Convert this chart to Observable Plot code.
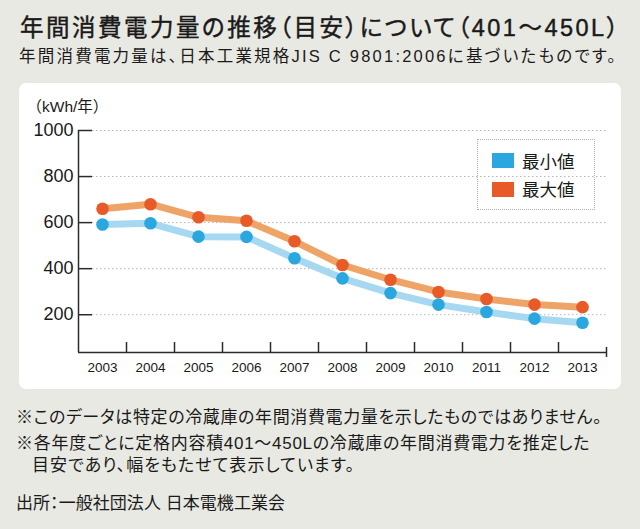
<!DOCTYPE html>
<html>
<head>
<meta charset="utf-8">
<script src="https://cdn.jsdelivr.net/npm/d3@7"></script>
<script src="https://cdn.jsdelivr.net/npm/@observablehq/plot@0.6"></script>
<style>
  html, body { margin: 0; padding: 0; }
  body { width: 640px; height: 529px; background: #e9e9e4; position: relative; overflow: hidden;
         font-family: "Liberation Sans", "Noto Sans CJK JP", sans-serif; color: #1a1a1a; }
  .t { position: absolute; white-space: nowrap; line-height: 1; font-feature-settings: "palt"; }
  #title { left: 20px; top: 17px; font-size: 23.5px; font-weight: 400; -webkit-text-stroke: 0.45px #1a1a1a; }
  #subtitle { left: 19px; top: 48px; font-size: 16.5px; }
  #panel { position: absolute; left: 19px; top: 83px; width: 602px; height: 306px; background: #fff; border-radius: 7px; }
  #legend { position: absolute; left: 458px; top: 56px; width: 116px; height: 69px; border: 1px dotted #b0b0b0; }
  .sw { position: absolute; left: 14px; width: 22px; height: 15px; }
  .lt { position: absolute; left: 44px; font-size: 17.5px; line-height: 1; font-family: "Noto Sans CJK JP", sans-serif; }
  .note { font-size: 17px; left: 16px; }
</style>
</head>
<body>
<div id="title" class="t" data-end="621">年間消費電力量の推移（目安）について（401～450L）</div>
<div id="subtitle" class="t" data-end="618">年間消費電力量は、日本工業規格JIS C 9801:2006に基づいたものです。</div>
<div id="panel">
  <div id="chart"></div>
  <div id="legend"></div>
</div>
<div class="t note" style="top:409px" data-end="602">※このデータは特定の冷蔵庫の年間消費電力量を示したものではありません。</div>
<div class="t note" style="top:435px" data-end="590">※各年度ごとに定格内容積401～450Lの冷蔵庫の年間消費電力を推定した</div>
<div class="t note" style="top:457px; left:32px" data-end="355">目安であり、幅をもたせて表示しています。</div>
<div class="t note" style="top:495px" data-end="285">出所：一般社団法人 日本電機工業会</div>
<script>
// ---- data ----
const years = [2003, 2004, 2005, 2006, 2007, 2008, 2009, 2010, 2011, 2012, 2013];
const minValues = [592, 597, 539, 538, 445, 358, 294, 244, 212, 183, 165];
const maxValues = [660, 680, 623, 608, 519, 416, 352, 299, 268, 244, 233];
const yTicks = [200, 400, 600, 800, 1000];
const seriesNames = ["最小値", "最大値"];
const unitLabel = "（kWh/年）";

// ---- styles ----
const minLine = "#a6d8f1", minDot = "#2aa7df";
const maxLine = "#efa467", maxDot = "#e95a29";
const axisColor = "#2b2b2b";

const minData = years.map((year, i) => ({year, value: minValues[i]}));
const maxData = years.map((year, i) => ({year, value: maxValues[i]}));
const xLo = years[0] - 0.5, xHi = years[years.length - 1] + 0.5;
const boundaries = years.slice(0, -1).map(y => y + 0.5);
const yLo = 36, yHi = 1000;
const pxPerUnit = (306 - 47 - 37) / (yHi - yLo);
const pxPerYear = (602 - 59 - 15) / (xHi - xLo);

const chart = Plot.plot({
  width: 602,
  height: 306,
  marginLeft: 59,
  marginRight: 15,
  marginTop: 47,
  marginBottom: 37,
  style: {background: "transparent", fontFamily: "'Liberation Sans', 'Noto Sans CJK JP', sans-serif", color: "#1a1a1a"},
  x: {type: "linear", domain: [xLo, xHi], axis: null},
  y: {domain: [yLo, yHi], axis: null},
  marks: [
    // dotted gridlines
    Plot.ruleY(yTicks, {y: d => d, x1: xLo + 14 / pxPerYear, x2: xHi, stroke: "#b5b5b5", strokeWidth: 1, strokeDasharray: "1.5,2.5"}),
    // inward y ticks
    Plot.ruleY(yTicks, {y: d => d, x1: xLo, x2: xLo + 14 / pxPerYear, stroke: axisColor, strokeWidth: 1.5}),
    // axes lines
    Plot.ruleX([xLo], {y1: yLo, y2: yHi, stroke: axisColor, strokeWidth: 1.5}),
    Plot.ruleY([yLo], {x1: xLo, x2: xHi, stroke: axisColor, strokeWidth: 1.5}),
    // x band boundary ticks
    Plot.ruleX(boundaries, {x: d => d, y1: yLo, y2: yLo + 10 / pxPerUnit, stroke: axisColor, strokeWidth: 1.5}),
    Plot.ruleX([xHi], {x: d => d, y1: yLo - 5 / pxPerUnit, y2: yLo + 5 / pxPerUnit, stroke: axisColor, strokeWidth: 1.5, clip: false}),
    // axis labels
    Plot.axisY({ticks: yTicks, tickSize: 0, tickPadding: 5, fontSize: 18, tickFormat: d => String(d), label: null}),
    Plot.axisX({ticks: years, tickSize: 0, tickPadding: 10, fontSize: 13.5, tickFormat: d => String(d), label: null}),
    Plot.text([unitLabel], {frameAnchor: "top-left", lineAnchor: "middle", dx: -52, dy: -23, textAnchor: "start", fontSize: 15.5, fill: "#1a1a1a"}),
    // lines
    Plot.line(minData, {x: "year", y: "value", stroke: minLine, strokeWidth: 7, strokeLinejoin: "round", strokeLinecap: "round"}),
    Plot.line(maxData, {x: "year", y: "value", stroke: maxLine, strokeWidth: 7, strokeLinejoin: "round", strokeLinecap: "round"}),
    Plot.dot(minData, {x: "year", y: "value", r: 6.3, fill: minDot}),
    Plot.dot(maxData, {x: "year", y: "value", r: 6.3, fill: maxDot})
  ]
});
document.getElementById("chart").appendChild(chart);

// legend
const legend = document.getElementById("legend");
const legendColors = [minDot, maxDot];
seriesNames.forEach((name, i) => {
  const top = 13 + i * 28.7;
  const sw = document.createElement("div");
  sw.className = "sw";
  sw.style.top = top + "px";
  sw.style.background = legendColors[i];
  legend.appendChild(sw);
  const lt = document.createElement("div");
  lt.className = "lt";
  lt.style.top = (top - 1.5) + "px";
  lt.textContent = name;
  legend.appendChild(lt);
});

// stretch text lines to the reference line lengths via letter-spacing
function fitAll() {
  document.querySelectorAll("[data-end]").forEach(el => {
    el.style.letterSpacing = "0px";
    const r = el.getBoundingClientRect();
    const n = [...el.textContent].length;
    const target = +el.dataset.end - r.left;
    el.style.letterSpacing = ((target - r.width) / n).toFixed(2) + "px";
  });
}
fitAll();
if (document.fonts && document.fonts.ready) document.fonts.ready.then(fitAll);
</script>
</body>
</html>
